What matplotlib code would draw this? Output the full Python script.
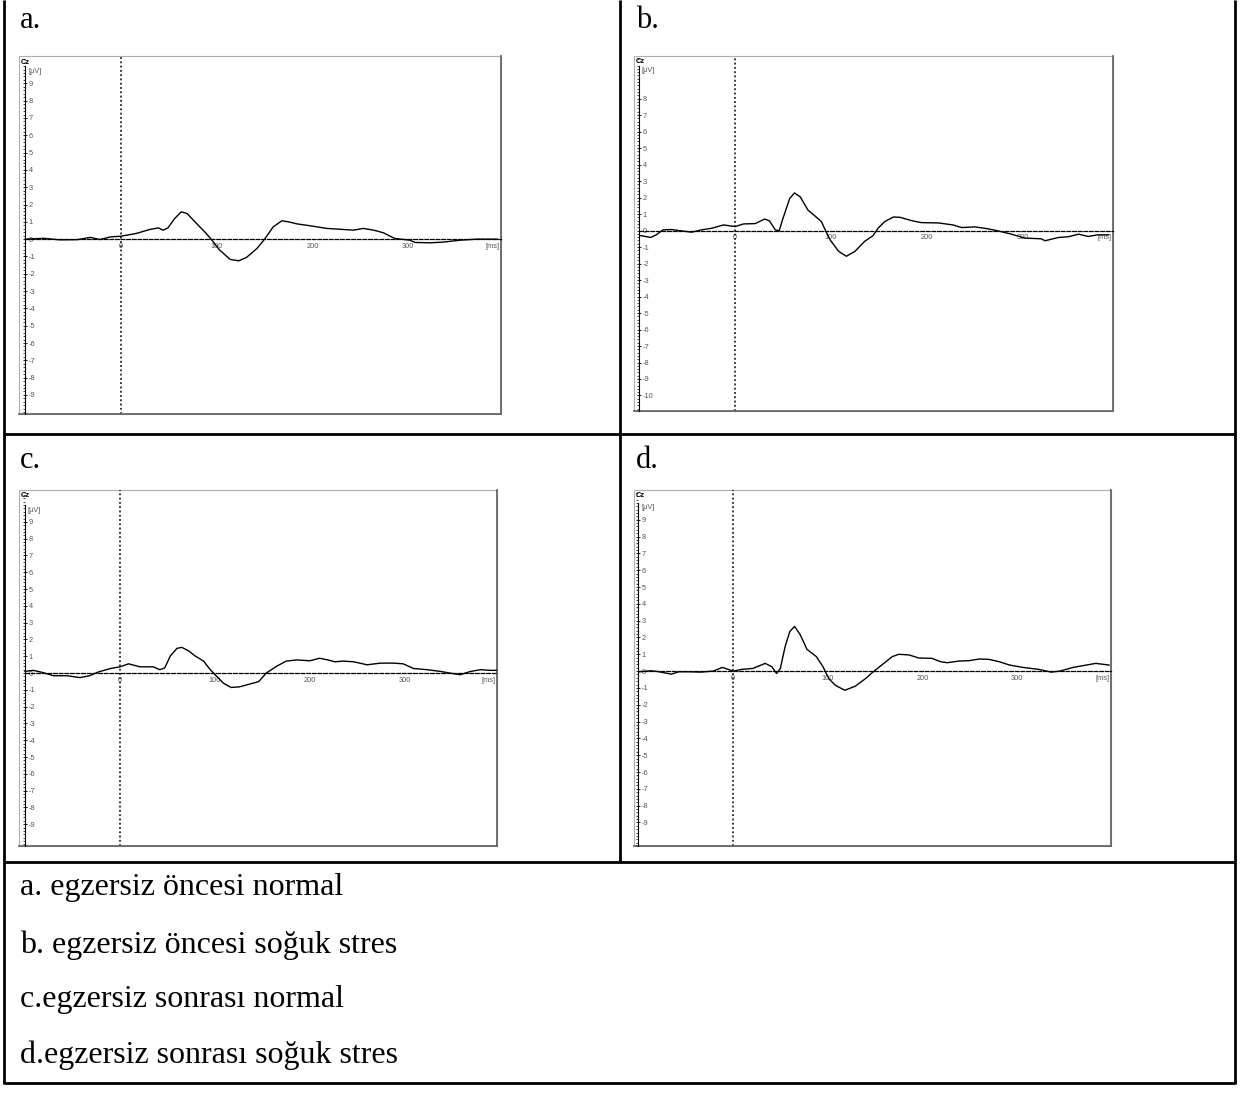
import matplotlib
matplotlib.use('Agg')
import matplotlib.pyplot as plt
from matplotlib.lines import Line2D
from matplotlib.patches import Rectangle
from matplotlib.ticker import MultipleLocator

plt.rcParams['font.family'] = ['Liberation Sans', 'DejaVu Sans']

# Cz ortalama ERP egrileri: gecikme [ms], genlik [uV]
t_a = [-100, -81, -64, -46, -32, -22, -11, 0, 16, 30, 39, 44, 49, 56, 63, 69, 79, 89, 95,
       103, 114, 123, 131, 142, 150, 159, 168, 175, 184, 198, 215, 232, 243, 253, 264, 274,
       286, 302, 307, 323, 337, 354, 372, 393]
v_a = [0.0, 0.05, -0.04, -0.03, 0.1, -0.02, 0.13, 0.17, 0.33, 0.56, 0.65, 0.52, 0.65, 1.19,
       1.58, 1.48, 0.9, 0.33, -0.06, -0.63, -1.17, -1.25, -1.06, -0.54, 0.0, 0.71, 1.06, 1.0,
       0.88, 0.77, 0.62, 0.56, 0.52, 0.62, 0.52, 0.37, 0.04, -0.06, -0.19, -0.21, -0.17,
       -0.06, 0.0, 0.0]

t_b = [-99, -88, -82, -75, -66, -56, -45, -35, -24, -12, 0, 9, 21, 31, 36, 42, 46, 50, 57,
       62, 68, 76, 83, 90, 94, 99, 108, 116, 125, 135, 144, 149, 156, 165, 172, 184, 194,
       212, 227, 236, 250, 264, 274, 288, 302, 319, 323, 337, 347, 358, 368, 378, 389]
v_b = [-0.3, -0.42, -0.26, 0.04, 0.06, -0.02, -0.1, 0.04, 0.14, 0.34, 0.24, 0.4, 0.42, 0.7,
       0.58, 0.04, -0.02, 0.74, 1.94, 2.28, 2.04, 1.24, 0.9, 0.54, 0.04, -0.56, -1.26, -1.56,
       -1.26, -0.66, -0.3, 0.14, 0.54, 0.82, 0.8, 0.6, 0.48, 0.46, 0.34, 0.18, 0.22, 0.1,
       -0.02, -0.22, -0.46, -0.5, -0.62, -0.42, -0.38, -0.22, -0.36, -0.26, -0.26]

t_c = [-100, -91, -82, -70, -56, -42, -32, -23, -10, 0, 9, 21, 35, 42, 47, 53, 60, 65, 72,
       79, 88, 95, 99, 109, 117, 126, 137, 146, 154, 165, 175, 186, 200, 210, 219, 226, 235,
       246, 260, 274, 288, 298, 309, 323, 337, 347, 358, 368, 379, 390, 396]
v_c = [0.1, 0.16, 0.04, -0.16, -0.16, -0.27, -0.16, 0.06, 0.27, 0.37, 0.55, 0.37, 0.37, 0.2,
       0.3, 1.02, 1.47, 1.53, 1.33, 1.02, 0.71, 0.2, -0.04, -0.61, -0.86, -0.82, -0.65,
       -0.51, 0.0, 0.41, 0.71, 0.78, 0.73, 0.88, 0.78, 0.67, 0.71, 0.67, 0.49, 0.59, 0.59,
       0.55, 0.27, 0.2, 0.1, 0.0, -0.1, 0.08, 0.2, 0.16, 0.16]

t_d = [-99, -87, -80, -65, -57, -46, -34, -21, -11, 0, 9, 21, 34, 41, 46, 50, 55, 60, 65,
       71, 78, 88, 95, 101, 108, 118, 129, 140, 148, 157, 168, 175, 186, 196, 210, 219, 226,
       239, 249, 260, 270, 281, 292, 306, 323, 336, 345, 359, 373, 383, 397]
v_d = [-0.04, 0.02, -0.02, -0.18, -0.04, -0.04, -0.06, 0.0, 0.22, 0.0, 0.1, 0.16, 0.46,
       0.26, -0.14, 0.16, 1.46, 2.36, 2.66, 2.16, 1.3, 0.86, 0.26, -0.44, -0.84, -1.14,
       -0.9, -0.44, -0.04, 0.36, 0.86, 1.0, 0.96, 0.78, 0.76, 0.56, 0.5, 0.6, 0.62, 0.72,
       0.7, 0.56, 0.36, 0.22, 0.1, -0.06, 0.0, 0.22, 0.36, 0.46, 0.36]

yticks_9 = list(range(-9, 10))
yticks_b = list(range(-10, 9))
xticks = [0, 100, 200, 300]

panel_tags = ['a.', 'b.', 'c.', 'd.']
captions = ['a. egzersiz öncesi normal',
            'b. egzersiz öncesi soğuk stres',
            'c.egzersiz sonrası normal',
            'd.egzersiz sonrası soğuk stres']

W, H = 1242, 1093
fig = plt.figure(figsize=(W / 100, H / 100), dpi=100)
fig.patch.set_facecolor('white')

GRAY = '#555555'


def ciz(frame, xlim, ylim, t, v, yt):
    l, top, r, b = frame
    ax = fig.add_axes([l / W, 1 - b / H, (r - l) / W, (b - top) / H])
    ax.set_xlim(*xlim)
    ax.set_ylim(*ylim)
    ax.spines['top'].set_visible(False)
    ax.spines['right'].set_visible(False)
    ax.spines['left'].set_position(('data', -100))
    ax.spines['left'].set_bounds(ylim[0], 10)
    ax.spines['left'].set_linewidth(0.8)
    ax.spines['bottom'].set_position(('data', 0))
    ax.spines['bottom'].set_bounds(-100, xlim[1])
    ax.spines['bottom'].set_linestyle((0, (3, 1.5)))
    ax.spines['bottom'].set_linewidth(0.9)

    ax.set_yticks(yt)
    ax.set_yticklabels([str(k) for k in yt])
    ax.yaxis.set_minor_locator(MultipleLocator(0.2))
    ax.tick_params(axis='y', which='major', direction='inout', length=3, width=0.6,
                   labelsize=5.3, labelcolor=GRAY, pad=-4)
    ax.tick_params(axis='y', which='minor', direction='out', length=1.8, width=0.5)
    for lab in ax.get_yticklabels():
        lab.set_horizontalalignment('left')

    ax.set_xticks(xticks)
    ax.tick_params(axis='x', length=0, labelsize=5.3, labelcolor=GRAY, pad=2.5)
    ax.annotate('[ms]', xy=(1, 0), xycoords=('axes fraction', 'data'), xytext=(-1, -2.5),
                textcoords='offset points', ha='right', va='top', fontsize=5.3, color=GRAY)

    ax.axvline(0, color='k', lw=1.1, ls=(0, (1.2, 1.6)), zorder=2)
    ax.plot(t, v, color='k', lw=1.0, zorder=3, solid_joinstyle='round')

    ax.text(0.004, 0.993, 'Cz', transform=ax.transAxes, fontsize=5.5, fontweight='bold',
            va='top', ha='left')
    ax.text(-97, 9.7, '[µV]', fontsize=5.3, color=GRAY, va='center', ha='left')

    # cerceve: acik gri, sag ve alt kenar daha koyu
    ax.add_patch(Rectangle((0, 0), 1, 1, transform=ax.transAxes, fill=False,
                           ec='#b0b0b0', lw=0.8, clip_on=False))
    ax.plot([1, 1], [0, 1], transform=ax.transAxes, color='#666666', lw=1.3, clip_on=False)
    ax.plot([0, 1], [0, 0], transform=ax.transAxes, color='#666666', lw=1.3, clip_on=False)
    return ax


ciz((19, 56, 501, 414), (-106.6, 397), (-10.1, 10.58), t_a, v_a, yticks_9)
ciz((634, 56, 1113, 411), (-105.2, 393.8), (-10.94, 10.58), t_b, v_b, yticks_b)
ciz((19, 490, 497, 846), (-106.3, 396.8), (-10.3, 10.9), t_c, v_c, yticks_9)
ciz((634, 490, 1111, 846), (-104.5, 399), (-10.4, 10.77), t_d, v_d, yticks_9)


# tablo cizgileri
def hat(x0, y0, x1, y1):
    fig.add_artist(Line2D([x0 / W, x1 / W], [1 - y0 / H, 1 - y1 / H], color='k', lw=2.0,
                          solid_capstyle='butt'))


hat(4, 0, 4, 1084)
hat(1235, 0, 1235, 1084)
hat(620, 0, 620, 862)
hat(4, 434, 1235, 434)
hat(4, 862, 1235, 862)
hat(4, 1083, 1235, 1083)

serif = ['Liberation Serif', 'DejaVu Serif']
for tag, (x, y) in zip(panel_tags, [(20, 21), (636, 21), (20, 461), (636, 461)]):
    fig.text(x / W, 1 - y / H, tag, family=serif, fontsize=22, va='center', ha='left')

for cap, y in zip(captions, [888, 945, 1000, 1055]):
    fig.text(20 / W, 1 - y / H, cap, family=serif, fontsize=23, va='center', ha='left')

fig.savefig('out.png', dpi=100)
